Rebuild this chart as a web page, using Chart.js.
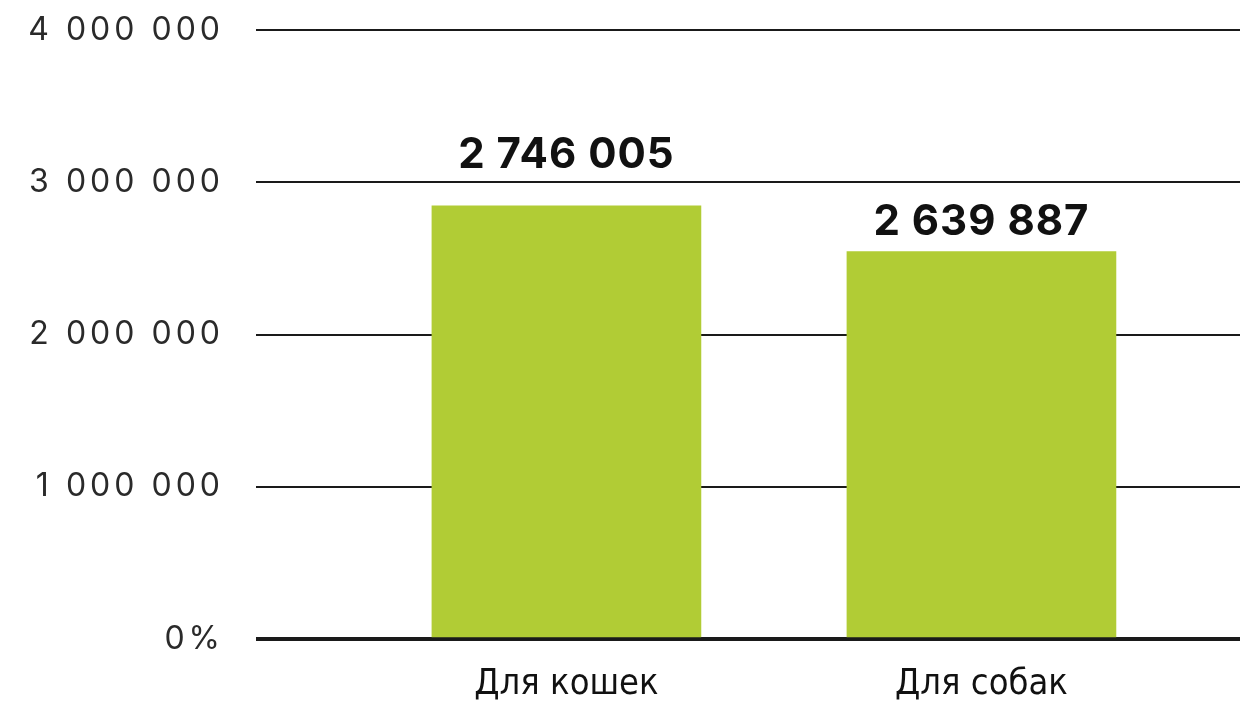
<!DOCTYPE html>
<html>
<head>
<meta charset="utf-8">
<script src="https://cdn.jsdelivr.net/npm/chart.js@4"></script>
<style>
  html, body { margin: 0; padding: 0; background: #fff; }
  #wrap { width: 1240px; height: 701px; }
</style>
</head>
<body>
<div id="wrap"><canvas id="myChart"></canvas></div>
<script>
// data block
const categories = ['Для кошек', 'Для собак'];
const barValues = [2845000, 2545000];           // bar heights as drawn
const valueLabels = ['2 746 005', '2 639 887']; // printed numbers
const yTicks = [0, 1000000, 2000000, 3000000, 4000000];

const fmt = v => v === 0 ? '0%' : String(v).replace(/\B(?=(\d{3})+(?!\d))/g, ' ');

// wide spacing for the y labels only (x axis ticks are drawn on a later layer)
const spacing = {
    id: 'spacing',
    beforeDraw(chart) { chart.ctx.letterSpacing = '4px'; },
    afterDatasetsDraw(chart) { chart.ctx.letterSpacing = '0px'; }
};

// value labels above the bars
const barLabels = {
    id: 'barLabels',
    afterDatasetsDraw(chart, args, opts) {
        const { ctx } = chart;
        const meta = chart.getDatasetMeta(0);
        ctx.save();
        ctx.font = 'bold 42px Inter';
        ctx.letterSpacing = '1px';
        ctx.fillStyle = '#111';
        ctx.textAlign = 'center';
        ctx.textBaseline = 'alphabetic';
        meta.data.forEach((bar, i) => {
            ctx.fillText(valueLabels[i], bar.x, bar.y - opts.gaps[i]);
        });
        ctx.restore();
    }
};

const data = {
    datasets: [{
        data: barValues.map((v, i) => ({ x: i, y: v })),
        backgroundColor: '#b1cc35',
        borderWidth: 0,
        barThickness: 269
    }]
};

const config = {
    type: 'bar',
    data: data,
    options: {
        responsive: true,
        maintainAspectRatio: false,
        animation: false,
        layout: { padding: { top: 30, right: 0, left: 0, bottom: 0 } },
        scales: {
            x: {
                type: 'linear',
                offset: false,
                min: -0.748,
                max: 1.623,
                grid: { display: false, offset: false },
                border: { display: false },
                afterBuildTicks: s => { s.ticks = categories.map((c, i) => ({ value: i })); },
                afterFit: s => { s.height = 62; },
                ticks: {
                    z: 1,
                    callback: v => categories[v],
                    color: '#111',
                    font: { family: "'DejaVu Sans Condensed', 'Liberation Sans'", size: 36 },
                    padding: 16
                }
            },
            y: {
                min: 0,
                max: 4000000,
                afterBuildTicks: s => { s.ticks = yTicks.map(v => ({ value: v })); },
                afterFit: s => {
                    s.width = 256;
                    s.paddingTop = 20;
                    s.paddingBottom = 20;
                },
                border: { display: false },
                grid: {
                    color: '#1a1a1a',
                    lineWidth: c => c.tick && c.tick.value === 0 ? 4 : 2,
                    drawTicks: false
                },
                ticks: {
                    callback: fmt,
                    color: '#2a2a2a',
                    font: { family: 'Inter', size: 32 },
                    padding: 32
                }
            }
        },
        plugins: {
            legend: { display: false },
            tooltip: { enabled: false },
            barLabels: { gaps: [38, 17] }
        }
    },
    plugins: [spacing, barLabels]
};

const ctx = document.getElementById('myChart');
const myChart = new Chart(ctx, config);
</script>
</body>
</html>
